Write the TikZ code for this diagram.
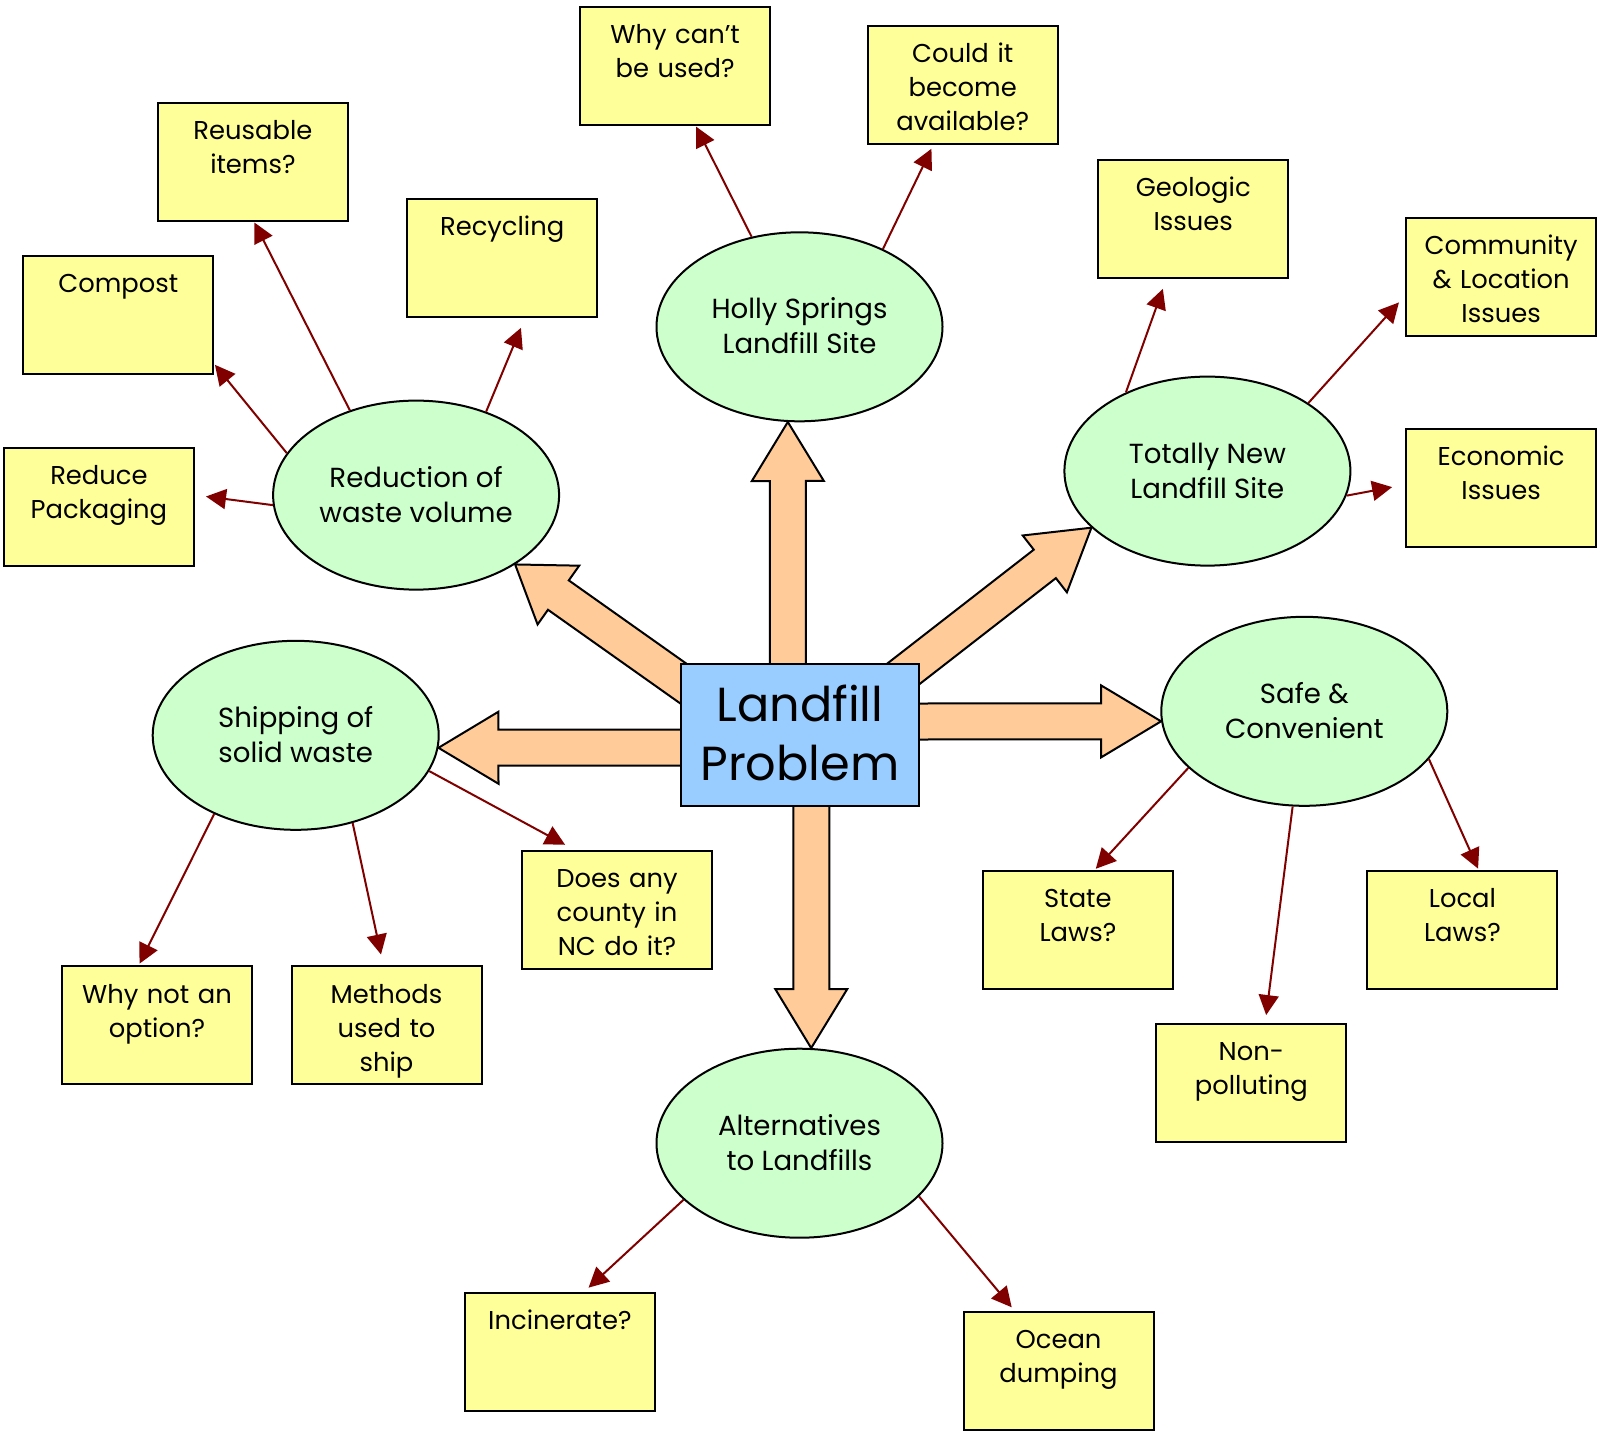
\documentclass[tikz,border=0pt]{standalone}
\usepackage{fontspec}
\setmainfont{Poppins}
\usetikzlibrary{arrows.meta,calc,shapes.geometric}

\definecolor{bubblefill}{HTML}{CCFFCC}
\definecolor{notefill}{HTML}{FFFF99}
\definecolor{problemfill}{HTML}{99CCFF}
\definecolor{fatfill}{HTML}{FFCC99}
\definecolor{linkred}{HTML}{800000}

\tikzset{
bubble/.style={ellipse, draw=black, fill=bubblefill, line width=1pt,
    inner sep=0pt, minimum width=143pt, minimum height=94.5pt, align=center,
    font=\fontsize{13.8}{17.5}\selectfont, text height=27pt, text depth=0pt},
note/.style={rectangle, draw=black, fill=notefill, line width=1pt,
    inner sep=0pt, minimum width=95pt, minimum height=59pt, text width=95pt,
    align=center, font=\fontsize{12.9}{17}\selectfont,
    text height=18.3pt, text depth=40.7pt},
problem/.style={rectangle, draw=black, fill=problemfill, line width=1pt,
    inner sep=0pt, minimum width=119pt, minimum height=71pt, align=center,
    font=\fontsize{23.9}{29.2}\selectfont, text height=45.2pt, text depth=0pt},
link/.style={draw=linkred, line width=1pt, -{Triangle[length=10pt,width=10pt]}},
fat/.style={draw=black, fill=fatfill, line width=1pt, line join=miter}}

% block arrow: start, tip, head length
\newcommand\fatarrow[3]{%
    \coordinate (fb) at ($(#2)!#3!(#1)$);
    \draw[fat]
        ($(#1)!9pt!90:(#2)$) -- ($(fb)!9pt!90:(#2)$) -- ($(fb)!18pt!90:(#2)$)
        -- (#2) --
        ($(fb)!18pt!-90:(#2)$) -- ($(fb)!9pt!-90:(#2)$) -- ($(#1)!9pt!-90:(#2)$)
        -- cycle;
}

\begin{document}
\begin{tikzpicture}[x=0.5pt,y=0.5pt,yscale=-1,xscale=1]

    \useasboundingbox (0,0) rectangle (1599,1437);

    \coordinate (mid) at (800,735);

    % the six topics
    \node[bubble] (holly) at (799.5,326.8) {Holly Springs\\Landfill Site};
    \node[bubble] (red)   at (416.1,495.1) {Reduction of\\waste volume};
    \node[bubble] (tot)   at (1207.4,471.1) {Totally New\\Landfill Site};
    \node[bubble] (ship)  at (295.7,735.3) {Shipping of\\solid waste};
    \node[bubble] (safe)  at (1304.3,711.3) {Safe \&\\Convenient};
    \node[bubble] (alt)   at (799.5,1143.2) {Alternatives\\to Landfills};

    % questions
    \foreach \n/\x/\y/\t in {
        why/675.1/65.8/{Why can’t\\be used?},
        could/962.7/84.6/{Could it\\become\\available?},
        reuse/252.9/161.6/{Reusable\\items?},
        recyc/502.2/257.5/{Recycling},
        compost/118.3/315.1/{Compost},
        pack/98.9/506.8/{Reduce\\Packaging},
        geo/1193.2/218.7/{Geologic\\Issues},
        comm/1501.1/276.9/{Community\\\& Location\\Issues},
        econ/1501.1/488/{Economic\\Issues},
        does/617/910.1/{Does any\\county in\\NC do it?},
        whynot/157/1025.4/{Why not an\\option?},
        meth/386.5/1025.4/{Methods\\used to\\ship},
        state/1077.9/929.5/{State\\Laws?},
        local/1462.4/929.5/{Local\\Laws?},
        nonpol/1251.3/1083/{Non-\\polluting},
        incin/559.9/1351.7/{Incinerate?},
        ocean/1058.5/1371.1/{Ocean\\dumping}
    }{
        \node[note] (\n) at (\x,\y) {\t};
    }

    \foreach \a/\b/\g in {
        red.184/pack.7/5.6pt,
        red.162/compost.-27/0.5pt,
        red.128/reuse.-89/0.5pt,
        red.50/recyc.-69/5.6pt,
        holly.118/why.-71/0.5pt,
        holly.43/could.-116/2.3pt,
        tot.136/geo.-114/5.4pt,
        tot.34/comm.191/4.6pt,
        tot.-10/econ.178/6.6pt,
        ship.224/whynot.107/1pt,
        ship.-57/meth.93/5.6pt,
        ship.-15/does.125/5.6pt,
        safe.206/state.74/0.5pt,
        safe.-97/nonpol.77/4pt,
        safe.-21/local.75/0.5pt,
        alt.206/incin.68/3pt,
        alt.-24/ocean.126/2.5pt
    }{
        \draw[link, shorten >=\g] (\a) -- (\b);
    }

    % big arrows out of the middle box
    \coordinate (f1) at ($(mid)+(-12,0)$);
    \coordinate (f2) at ($(mid)+(11.5,0)$);
    \coordinate (f3) at ($(mid)+(-100,12.5)$);
    \coordinate (f4) at ($(mid)+(100,-13.5)$);
    \coordinate (f5) at ($(mid)+(-97.2,-37.7)$);
    \coordinate (f6) at ($(mid)+(93.5,-53.5)$);

    \foreach \s/\t/\h in {
        f1/holly.-97/29.5pt,
        f2/alt.83/29.5pt,
        f3/ship.-5/30pt,
        f4/safe.184/30pt,
        f5/red.-35/26.5pt,
        f6/tot.206/29.5pt
    }{
        \fatarrow{\s}{\t}{\h}
    }

    \node[problem] (prob) at (mid) {Landfill\\Problem};

\end{tikzpicture}
\end{document}
